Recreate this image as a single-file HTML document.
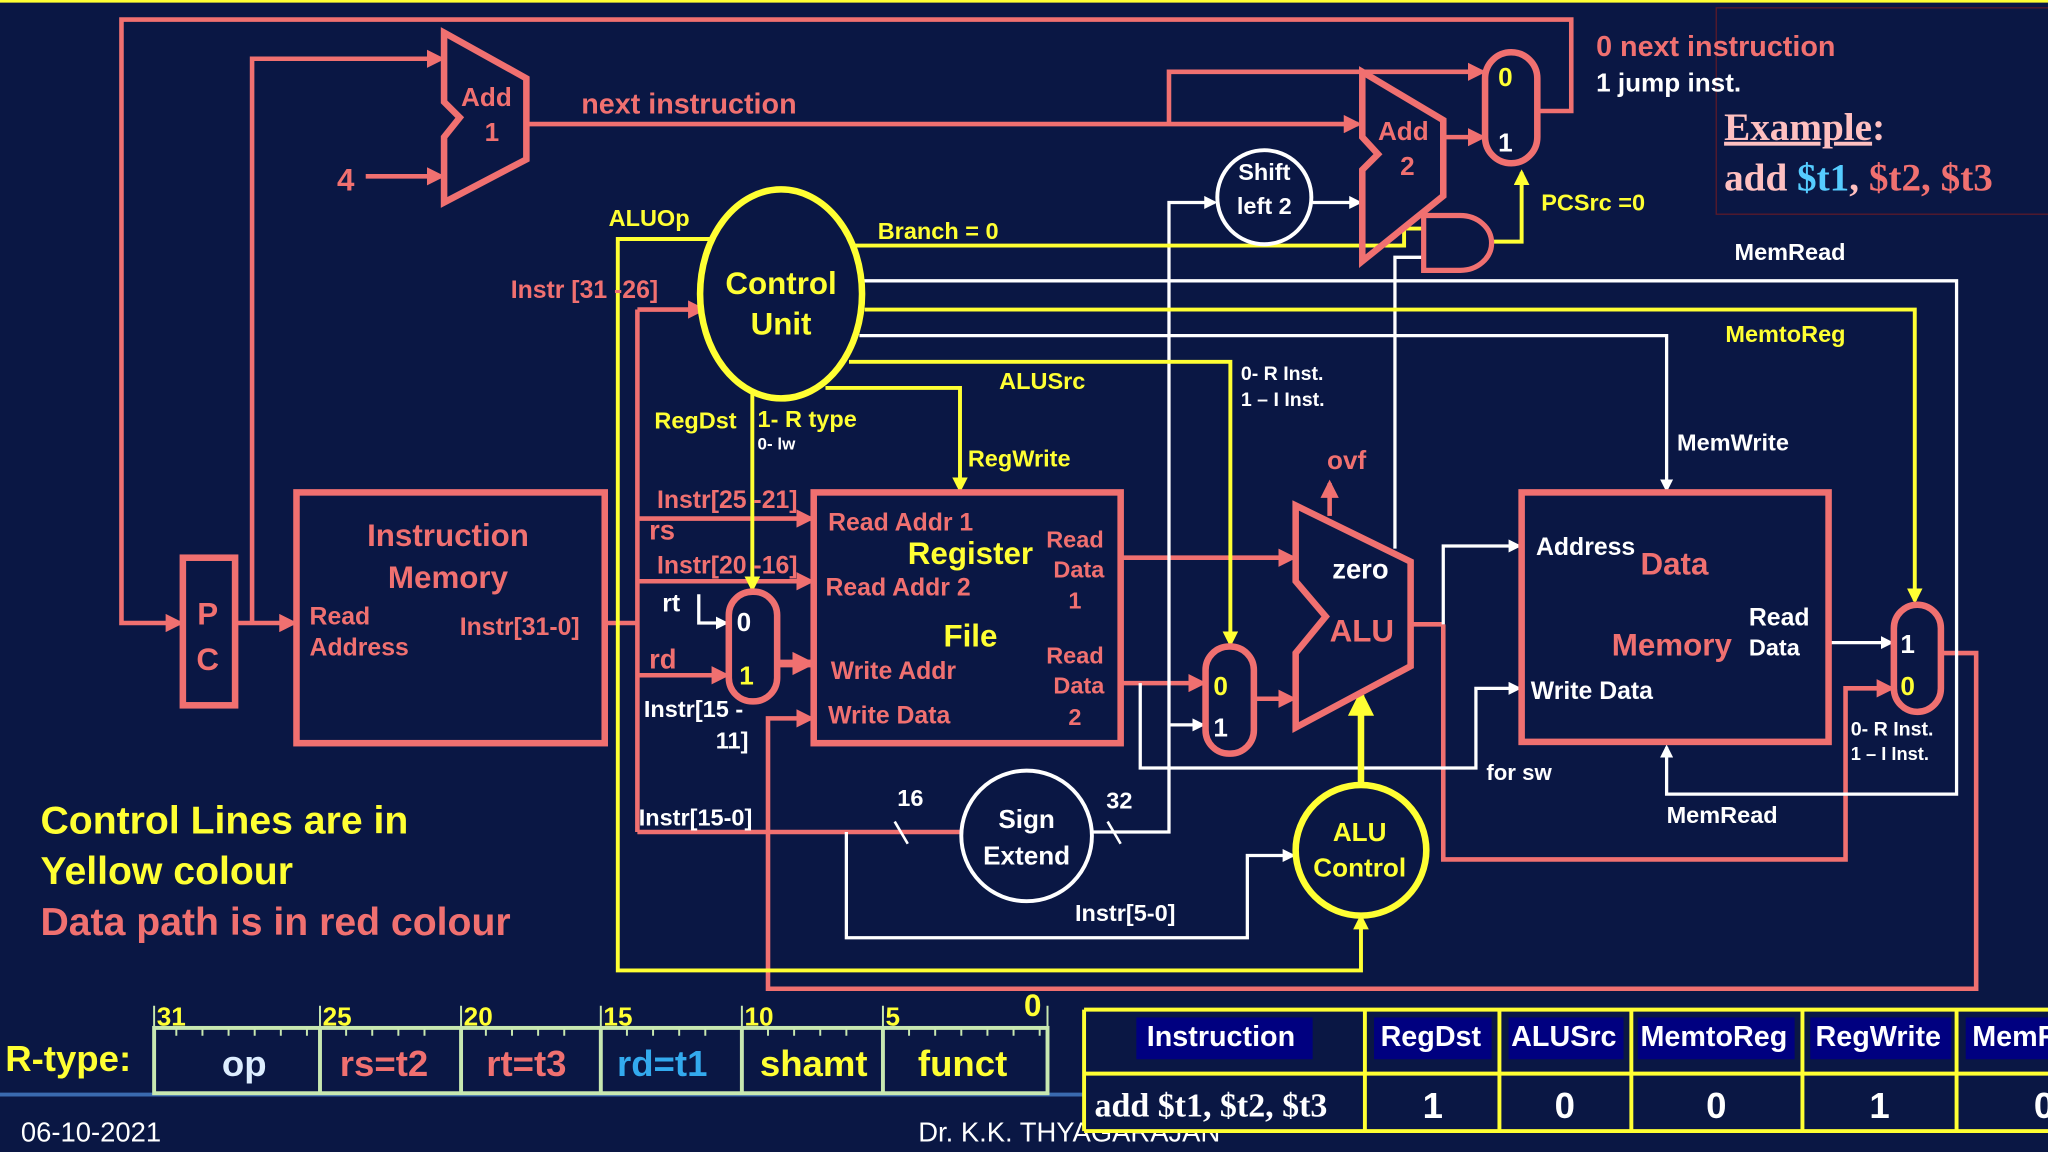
<!DOCTYPE html>
<html><head><meta charset="utf-8"><style>
html,body{margin:0;padding:0;background:#0a1744;}
svg{display:block}
text{font-family:"Liberation Sans",sans-serif;font-weight:bold}
</style></head><body>
<svg width="2048" height="1152" viewBox="0 0 1568 882" xmlns="http://www.w3.org/2000/svg">
<defs>
<marker id="ar" markerWidth="4" markerHeight="4" refX="3.2" refY="2" orient="auto" markerUnits="strokeWidth"><path d="M0,0 L4,2 L0,4z" fill="#f07070"/></marker>
<marker id="ar2" markerWidth="3" markerHeight="3" refX="2.4" refY="1.5" orient="auto" markerUnits="strokeWidth"><path d="M0,0 L3,1.5 L0,3z" fill="#f07070"/></marker>
<marker id="ay" markerWidth="4" markerHeight="4" refX="3.2" refY="2" orient="auto" markerUnits="strokeWidth"><path d="M0,0 L4,2 L0,4z" fill="#ffff33"/></marker>
<marker id="aw" markerWidth="4" markerHeight="4" refX="3.2" refY="2" orient="auto" markerUnits="strokeWidth"><path d="M0,0 L4,2 L0,4z" fill="#ffffff"/></marker>
</defs>
<rect width="1568" height="882" fill="#0a1744"/>
<line x1="0" y1="1" x2="1568" y2="1" stroke="#ffff33" stroke-width="2"/>
<rect x="1314" y="6" width="270" height="158" fill="none" stroke="#5a1a2a" stroke-width="1"/>

<!-- RED data paths -->
<g fill="none" stroke="#f07070" stroke-width="3.5">
<polyline points="1177,85 1203,85 1203,15 93,15 93,477 138,477" marker-end="url(#ar)"/>
<line x1="180" y1="477" x2="225" y2="477" marker-end="url(#ar)"/>
<polyline points="193,477 193,45 338,45" marker-end="url(#ar)"/>
<line x1="280" y1="135" x2="338" y2="135" marker-end="url(#ar)"/>
<line x1="403" y1="95" x2="1040" y2="95" marker-end="url(#ar)"/>
<polyline points="895,95 895,55 1135,55" marker-end="url(#ar)"/>
<line x1="1105" y1="105" x2="1135" y2="105" marker-end="url(#ar)"/>
<line x1="463" y1="477" x2="488" y2="477"/>
<line x1="488" y1="237" x2="488" y2="637"/>
<line x1="488" y1="237" x2="538" y2="237" marker-end="url(#ar)"/>
<line x1="488" y1="397" x2="621" y2="397" marker-end="url(#ar)"/>
<line x1="488" y1="445" x2="621" y2="445" marker-end="url(#ar)"/>
<line x1="488" y1="517" x2="556" y2="517" marker-end="url(#ar)"/>
<line x1="488" y1="637" x2="735" y2="637"/>
<line x1="595" y1="508" x2="621" y2="508" stroke-width="6" marker-end="url(#ar2)"/>
<polyline points="1486,500 1513,500 1513,757 588,757 588,550 621,550" marker-end="url(#ar)"/>
<line x1="858" y1="427" x2="990" y2="427" marker-end="url(#ar)"/>
<line x1="858" y1="523" x2="921" y2="523" marker-end="url(#ar)"/>
<line x1="960" y1="535" x2="990" y2="535" marker-end="url(#ar)"/>
<line x1="1080" y1="478" x2="1105" y2="478"/>
<polyline points="1105,478 1105,658 1413,658 1413,527 1448,527" marker-end="url(#ar)"/>
<line x1="1018" y1="395" x2="1018" y2="370" marker-end="url(#ar)"/>
</g>

<!-- WHITE lines -->
<g fill="none" stroke="#ffffff" stroke-width="2.5">
<polyline points="535,455 535,477 556,477" marker-end="url(#aw)"/>
<polyline points="873,523 873,588 1130,588 1130,527 1163,527" marker-end="url(#aw)"/>
<polyline points="836,637 895,637 895,155 930,155" marker-end="url(#aw)"/>
<line x1="895" y1="555" x2="921" y2="555" marker-end="url(#aw)"/>
<polyline points="648,637 648,718 955,718 955,655 990,655" marker-end="url(#aw)"/>
<line x1="1005" y1="155" x2="1041" y2="155" marker-end="url(#aw)"/>
<polyline points="1105,478 1105,418 1163,418" marker-end="url(#aw)"/>
<line x1="1400" y1="492" x2="1448" y2="492" marker-end="url(#aw)"/>
<polyline points="1068,420 1068,197 1090,197"/>
<polyline points="660,215 1498,215 1498,608 1276,608 1276,572" marker-end="url(#aw)"/>
<polyline points="658,257 1276,257 1276,375" marker-end="url(#aw)"/>
</g>

<!-- YELLOW control -->
<g fill="none" stroke="#ffff33" stroke-width="3">
<polyline points="655,188 1075,188 1075,175 1090,175"/>
<polyline points="1142,185 1165,185 1165,132" marker-end="url(#ay)"/>
<polyline points="662,237 1466,237 1466,460" marker-end="url(#ay)"/>
<polyline points="650,277 942,277 942,493" marker-end="url(#ay)"/>
<polyline points="632,297 735,297 735,375" marker-end="url(#ay)"/>
<line x1="576" y1="300" x2="576" y2="451" marker-end="url(#ay)"/>
<polyline points="545,183 473,183 473,743 1042,743 1042,702" marker-end="url(#ay)"/>
<line x1="1042" y1="600" x2="1042" y2="532" stroke-width="5" marker-end="url(#ay)"/>
</g>

<!-- Components -->
<g fill="none" stroke="#f07070" stroke-width="5">
<rect x="140" y="427" width="40" height="113"/>
<rect x="227" y="377" width="236" height="192"/>
<rect x="623" y="377" width="235" height="192"/>
<rect x="1165" y="377" width="235" height="191"/>
<polygon points="340,25 403,60 403,122 340,155 340,105 352,90 340,78"/>
<polygon points="1043,55 1105,92 1105,150 1043,200 1043,130 1055,118 1043,105"/>
<polygon points="992,387 1080,430 1080,510 992,557 992,500 1015,472 992,445"/>
<rect x="1137" y="40" width="40" height="85" rx="20"/>
<rect x="558" y="453" width="37" height="84" rx="18"/>
<rect x="923" y="495" width="37" height="82" rx="18"/>
<rect x="1450" y="463" width="36" height="82" rx="18"/>
<path d="M1090,165 L1118,165 A24,21 0 0 1 1118,207 L1090,207 Z" stroke-width="4"/>
</g>
<ellipse cx="598" cy="225" rx="62" ry="80" fill="#0a1744" stroke="#ffff33" stroke-width="5"/>
<circle cx="968" cy="151" r="36" fill="#0a1744" stroke="#fff" stroke-width="3"/>
<circle cx="786" cy="640" r="50" fill="#0a1744" stroke="#fff" stroke-width="3"/>
<circle cx="1042" cy="651" r="50" fill="#0a1744" stroke="#ffff33" stroke-width="5"/>
<g stroke="#fff" stroke-width="2"><line x1="685" y1="629" x2="695" y2="646"/><line x1="848" y1="629" x2="858" y2="646"/></g>

<!-- Text red -->
<g fill="#f07070" font-size="20">
<text x="159" y="478" text-anchor="middle" font-size="24">P</text>
<text x="159" y="513" text-anchor="middle" font-size="24">C</text>
<text x="343" y="418" text-anchor="middle" font-size="24">Instruction</text>
<text x="343" y="450" text-anchor="middle" font-size="24">Memory</text>
<text x="237" y="478" font-size="19">Read</text>
<text x="237" y="502" font-size="19">Address</text>
<text x="352" y="486" font-size="19">Instr[31-0]</text>
<text x="353" y="81">Add</text><text x="371" y="108">1</text>
<text x="1055" y="107">Add</text><text x="1072" y="134">2</text>
<text x="258" y="146" font-size="24">4</text>
<text x="445" y="87" font-size="22">next instruction</text>
<text x="1222" y="43" font-size="22">0 next instruction</text>
<text x="391" y="228" font-size="19">Instr  [31 -26]</text>
<text x="503" y="389" font-size="19">Instr[25 -21]</text>
<text x="497" y="413" font-size="21">rs</text>
<text x="503" y="439" font-size="19">Instr[20 -16]</text>
<text x="497" y="512" font-size="21">rd</text>
<text x="634" y="406" font-size="19">Read Addr 1</text>
<text x="632" y="456" font-size="19">Read Addr 2</text>
<text x="636" y="520" font-size="19">Write Addr</text>
<text x="634" y="554" font-size="19">Write Data</text>
<g font-size="18" text-anchor="middle"><text x="823" y="419">Read</text><text x="826" y="442">Data</text><text x="823" y="466">1</text>
<text x="823" y="508">Read</text><text x="826" y="531">Data</text><text x="823" y="555">2</text></g>
<text x="1256" y="440" font-size="24">Data</text>
<text x="1234" y="502" font-size="24">Memory</text>
<text x="1016" y="359" font-size="20">ovf</text>
<text x="1018" y="491" font-size="24">ALU</text>
<text x="31" y="716" font-size="30" font-weight="normal">Data path is in red colour</text>
</g>
<!-- yellow text -->
<g fill="#ffff33" font-size="18">
<text x="598" y="225" text-anchor="middle" font-size="24">Control</text>
<text x="598" y="256" text-anchor="middle" font-size="24">Unit</text>
<text x="466" y="173">ALUOp</text>
<text x="672" y="183">Branch = 0</text>
<text x="1180" y="161">PCSrc =0</text>
<text x="1321" y="262">MemtoReg</text>
<text x="765" y="298">ALUSrc</text>
<text x="501" y="328">RegDst</text>
<text x="580" y="327">1- R type</text>
<text x="741" y="357">RegWrite</text>
<text x="743" y="432" text-anchor="middle" font-size="24">Register</text>
<text x="743" y="495" text-anchor="middle" font-size="24">File</text>
<text x="1041" y="644" text-anchor="middle" font-size="20">ALU</text>
<text x="1041" y="671" text-anchor="middle" font-size="20">Control</text>
<text x="1147" y="66" font-size="20">0</text>
<text x="929" y="532" font-size="20">0</text>
<text x="566" y="524" font-size="20">1</text>
<text x="1455" y="532" font-size="20">0</text>
<g font-size="30" font-weight="normal"><text x="31" y="638">Control Lines are in</text><text x="31" y="677">Yellow colour</text></g>
</g>
<!-- white text -->
<g fill="#fff" font-size="18">
<text x="1222" y="70" font-size="20">1 jump inst.</text>
<text x="968" y="138" text-anchor="middle">Shift</text><text x="968" y="164" text-anchor="middle">left 2</text>
<text x="786" y="634" text-anchor="middle" font-size="20">Sign</text><text x="786" y="662" text-anchor="middle" font-size="20">Extend</text>
<text x="1328" y="199">MemRead</text>
<text x="1284" y="345">MemWrite</text>
<text x="1276" y="630">MemRead</text>
<text x="580" y="344" font-size="13">0- lw</text>
<text x="950" y="291" font-size="15">0- R Inst.</text>
<text x="950" y="311" font-size="15" font-weight="normal">1 – I Inst.</text>
<text x="1417" y="563" font-size="15">0- R Inst.</text>
<text x="1417" y="582" font-size="14" font-weight="normal">1 – I Inst.</text>
<text x="507" y="468" font-size="19">rt</text>
<text x="1020" y="443" font-size="21" font-weight="normal">zero</text>
<text x="1176" y="425" font-size="19" font-weight="normal">Address</text>
<text x="1339" y="479" font-size="19">Read</text><text x="1339" y="502" font-size="18">Data</text>
<text x="1172" y="535" font-size="19" font-weight="normal">Write Data</text>
<text x="1138" y="597" font-size="17" font-weight="normal">for sw</text>
<g font-weight="normal"><text x="493" y="549">Instr[15  -</text><text x="548" y="573">11]</text>
<text x="489" y="632">Instr[15-0]</text><text x="687" y="617">16</text><text x="847" y="619">32</text>
<text x="823" y="705">Instr[5-0]</text>
<text x="564" y="483" font-size="20">0</text><text x="929" y="564" font-size="20">1</text><text x="1147" y="116" font-size="20">1</text></g>
<text x="1455" y="500" font-size="20" font-weight="normal">1</text>
</g>
<g font-weight="bold" font-size="30">
<text x="1320" y="107" fill="#ffc0c0" style="font-family:'Liberation Serif',serif"><tspan text-decoration="underline">Example</tspan>:</text>
<text x="1320" y="146" fill="#ffc0c0" style="font-family:'Liberation Serif',serif">add <tspan fill="#55ccff">$t1</tspan>, <tspan fill="#f07070">$t2, $t3</tspan></text>
</g>

<!-- bottom -->
<line x1="0" y1="838" x2="830" y2="838" stroke="#3a6ab0" stroke-width="3"/>
<text x="4" y="820" fill="#ffff33" font-size="28">R-type:</text>
<g stroke="#c8e8b0" stroke-width="3" fill="none">
<rect x="118" y="787" width="684" height="50"/>
<line x1="245" y1="787" x2="245" y2="837"/><line x1="353" y1="787" x2="353" y2="837"/><line x1="460" y1="787" x2="460" y2="837"/><line x1="568" y1="787" x2="568" y2="837"/><line x1="676" y1="787" x2="676" y2="837"/>
</g>
<g stroke="#c8e8b0" stroke-width="1.5">
<path d="M135,787v6M155,787v6M175,787v6M195,787v6M215,787v6M235,787v6M265,787v6M285,787v6M305,787v6M325,787v6M372,787v6M392,787v6M412,787v6M432,787v6M480,787v6M500,787v6M520,787v6M540,787v6M588,787v6M608,787v6M628,787v6M648,787v6M696,787v6M716,787v6M736,787v6M756,787v6M776,787v6M796,787v6"/>
<path d="M118,770v17M245,770v17M353,770v17M460,770v17M568,770v17M676,770v17M802,770v17"/>
</g>
<g fill="#ffff33" font-size="20" style="font-weight:normal">
<text x="120" y="785">31</text><text x="247" y="785">25</text><text x="355" y="785">20</text><text x="462" y="785">15</text><text x="570" y="785">10</text><text x="678" y="785">5</text><text x="784" y="778" font-size="24">0</text>
</g>
<g font-size="28" text-anchor="middle">
<text x="187" y="824" fill="#ddeeff">op</text><text x="294" y="824" fill="#f07070">rs=t2</text><text x="403" y="824" fill="#f07070">rt=t3</text>
<text x="507" y="824" fill="#33aaee">rd=t1</text><text x="623" y="824" fill="#ffff33">shamt</text><text x="737" y="824" fill="#ffff33">funct</text>
</g>
<text x="16" y="874" fill="#fff" font-size="21" style="font-weight:normal">06-10-2021</text>
<text x="703" y="874" fill="#fff" font-size="21" style="font-weight:normal">Dr. K.K. THYAGARAJAN</text>
<rect x="830" y="773" width="740" height="93" fill="#0a1744"/>
<g fill="#000080"><rect x="870" y="779" width="135" height="32"/><rect x="1052" y="779" width="90" height="32"/><rect x="1155" y="779" width="88" height="32"/><rect x="1254" y="779" width="120" height="32"/><rect x="1386" y="779" width="108" height="32"/><rect x="1505" y="779" width="63" height="32"/></g>
<g stroke="#ffff33" stroke-width="3" fill="none">
<line x1="830" y1="773" x2="1568" y2="773"/><line x1="830" y1="822" x2="1568" y2="822"/><line x1="830" y1="866" x2="1568" y2="866"/>
<line x1="830" y1="773" x2="830" y2="866"/><line x1="1045" y1="773" x2="1045" y2="866"/><line x1="1148" y1="773" x2="1148" y2="866"/><line x1="1249" y1="773" x2="1249" y2="866"/><line x1="1380" y1="773" x2="1380" y2="866"/><line x1="1498" y1="773" x2="1498" y2="866"/>
</g>
<g fill="#fff" font-size="22">
<text x="878" y="801">Instruction</text><text x="1057" y="801">RegDst</text><text x="1157" y="801">ALUSrc</text><text x="1256" y="801">MemtoReg</text><text x="1390" y="801">RegWrite</text><text x="1510" y="801">MemRead</text>
<text x="838" y="855" style="font-family:'Liberation Serif',serif" font-size="26">add $t1, $t2, $t3</text>
<g font-size="28" text-anchor="middle"><text x="1097" y="856">1</text><text x="1198" y="856">0</text><text x="1314" y="856">0</text><text x="1439" y="856">1</text><text x="1565" y="856">0</text></g>
</g>
</svg>
</body></html>
